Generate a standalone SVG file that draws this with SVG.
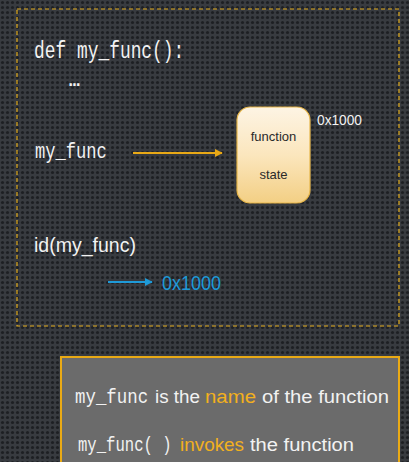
<svg xmlns="http://www.w3.org/2000/svg" width="409" height="462" viewBox="0 0 409 462">
<defs>
<pattern id="dots" x="0" y="0" width="5" height="5" patternUnits="userSpaceOnUse">
<rect width="5" height="5" fill="#383b40"/>
<circle cx="2.5" cy="2.5" r="1.6" fill="#1d1f23"/>
</pattern>
<linearGradient id="boxg" x1="0" y1="0" x2="0" y2="1">
<stop offset="0" stop-color="#fdf4e4"/>
<stop offset="0.5" stop-color="#fbe6bd"/>
<stop offset="1" stop-color="#f3cf84"/>
</linearGradient>
<marker id="ay" viewBox="0 0 10 10" refX="9" refY="5" markerWidth="4" markerHeight="4" orient="auto" markerUnits="strokeWidth">
<path d="M0,0 L10,5 L0,10 z" fill="#e9a916"/>
</marker>
<marker id="ab" viewBox="0 0 10 10" refX="9" refY="5" markerWidth="4" markerHeight="4" orient="auto" markerUnits="strokeWidth">
<path d="M0,0 L10,5 L0,10 z" fill="#1e9ad8"/>
</marker>
</defs>
<style>
.mono{font-family:"Liberation Mono","DejaVu Sans Mono",monospace;fill:#f2f2f2}
.sans{font-family:"Liberation Sans","DejaVu Sans",sans-serif;fill:#f2f2f2}
.or{fill:#f2b01e}
.blue{fill:#1e9ad8}
.dark{fill:#2a2a2a}
</style>
<rect width="409" height="462" fill="url(#dots)"/>
<rect x="17" y="9" width="382" height="317" fill="none" stroke="#e3ae1e" stroke-width="1.2" stroke-dasharray="4,3"/>

<g id="code-def">
<text class="mono" transform="translate(34,58) scale(1,1.3)" font-size="17.9">def my_func():</text>
<text class="mono" x="69" y="86" font-size="18" font-weight="bold">…</text>
</g>
<g id="my_func-label">
<text class="mono" transform="translate(35,158) scale(1,1.3)" font-size="17.1">my_func</text>
</g>
<g id="function-state">
<rect x="237" y="107" width="73" height="96" rx="13" fill="url(#boxg)" stroke="#e7b64a" stroke-width="1.2"/>
<text class="sans dark" x="273.5" y="141" font-size="13" text-anchor="middle">function</text>
<text class="sans dark" x="273.5" y="179" font-size="13" text-anchor="middle">state</text>
<text class="sans" x="317" y="125" font-size="15" textLength="45" lengthAdjust="spacingAndGlyphs">0x1000</text>
</g>
<g id="id-call">
<text class="sans" x="34" y="252" font-size="20" textLength="102" lengthAdjust="spacingAndGlyphs">id(my_func)</text>
</g>
<g id="id-result">
<text class="sans blue" x="162" y="290" font-size="20" textLength="59" lengthAdjust="spacingAndGlyphs">0x1000</text>
</g>
<g id="connectors">
<line x1="133" y1="153" x2="222" y2="153" stroke="#e9a916" stroke-width="2" marker-end="url(#ay)"/>
<line x1="108" y1="282" x2="152" y2="282" stroke="#1e9ad8" stroke-width="2" marker-end="url(#ab)"/>
</g>
<g id="note">
<rect x="61" y="357" width="338" height="110" fill="#6b6b6b" stroke="#eaaa14" stroke-width="2"/>
<text class="mono" transform="translate(75,403) scale(1,1.15)" font-size="17.4">my_func</text>
<text class="sans" x="155" y="403" font-size="18" textLength="45" lengthAdjust="spacingAndGlyphs">is the</text>
<text class="sans or" x="205" y="403" font-size="18" textLength="51" lengthAdjust="spacingAndGlyphs">name</text>
<text class="sans" x="262" y="403" font-size="18" textLength="127" lengthAdjust="spacingAndGlyphs">of the function</text>
<text class="mono" transform="translate(78,451) scale(1,1.3)" font-size="15.6">my_func( )</text>
<text class="sans or" x="180" y="451" font-size="18" textLength="64" lengthAdjust="spacingAndGlyphs">invokes</text>
<text class="sans" x="250" y="451" font-size="18" textLength="104" lengthAdjust="spacingAndGlyphs">the function</text>
</g>
</svg>
